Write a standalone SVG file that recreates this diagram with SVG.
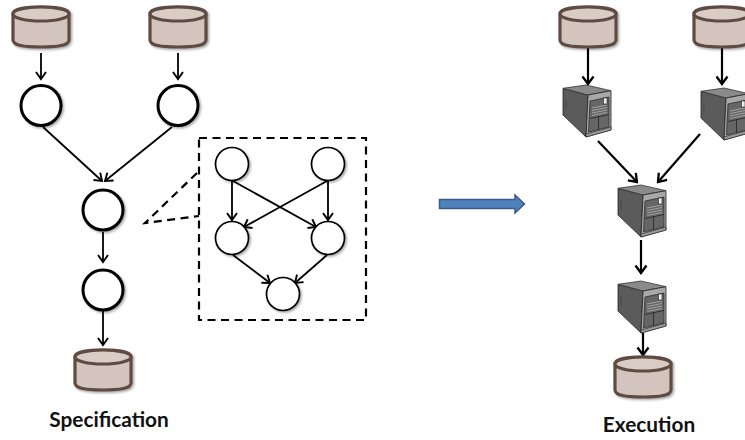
<svg xmlns="http://www.w3.org/2000/svg" width="745" height="440" viewBox="0 0 745 440">
<style>
.cyl{fill:#d3c5bd;stroke:#5f4b42;stroke-width:3.2;stroke-linejoin:round}
.big{fill:#fff;stroke:#000;stroke-width:3}
.small{fill:#fff;stroke:#000;stroke-width:1.7}
.e{fill:none;stroke:#000;stroke-width:1.8;marker-end:url(#a)}
.e2{fill:none;stroke:#000;stroke-width:2.2;marker-end:url(#a2)}
.dash{fill:none;stroke:#000;stroke-width:2.2;stroke-dasharray:8 5.5}
.label{font-family:"Lato","Carlito","Liberation Sans",sans-serif;font-weight:700;font-size:20.8px;fill:#111;text-anchor:middle}
</style>
<defs>
<filter id="s" x="-20%" y="-20%" width="150%" height="150%"><feDropShadow dx="1.5" dy="1.5" stdDeviation="1.3" flood-color="#000" flood-opacity=".35"/></filter>
<marker id="a" viewBox="0 0 12 12" refX="10.500" refY="6" markerWidth="12" markerHeight="12" markerUnits="userSpaceOnUse" orient="auto"><path d="M3.500 1L10.500 6L3.500 11" fill="none" stroke="#000" stroke-width="1.9"/></marker>
<marker id="a2" viewBox="0 0 14 14" refX="12.500" refY="7" markerWidth="14" markerHeight="14" markerUnits="userSpaceOnUse" orient="auto"><path d="M5 1.500L12.500 7L5 12.500" fill="none" stroke="#000" stroke-width="2.300"/></marker>
<g id="cylinder" filter="url(#s)">
<path class="cyl" d="M-28 -13V13C-28 19 -14 20 0 20S28 19 28 13V-13C28 -19 14 -20 0 -20S-28 -19 -28 -13Z"/>
<ellipse class="cyl" cx="0" cy="-13" rx="28" ry="7" style="fill:#d8ccc5"/>
</g>
<g id="server">
<path d="M0 3.300L25 10L23 52L0 30Z" fill="#5b5b5b" stroke="#222" stroke-width=".8"/>
<path d="M0 3.300L23 0L48 5.700L25 10Z" fill="#8a8a8a" stroke="#333" stroke-width=".8"/>
<path d="M25 10L48 5.700V45L23 52Z" fill="#a8a8a8" stroke="#222" stroke-width=".8"/>
<path d="M27 16L46 12V42L25.500 47Z" fill="#666" stroke="#222" stroke-width=".7"/>
<path d="M29 23L44 20M29 25.500L44 22.500M29 28L44 25M29 30.500L44 27.500" stroke="#bbb" stroke-width=".7" fill="none"/>
<path d="M35.500 31.500V44.500M27 33.500L46 29.500" stroke="#222" stroke-width=".8" fill="none"/>
<rect x="40.500" y="13" width="3.500" height="6" fill="#eee" stroke="#222" stroke-width=".6"/>
<path d="M3 15V25" stroke="#444" stroke-width=".8"/>
<path d="M23 52L48 45V42L23 49Z" fill="#999" stroke="#222" stroke-width=".6"/>
</g>
</defs>
<g id="connectors">
<path class="e" d="M41 53V79"/>
<path class="e" d="M178 53V79"/>
<path class="e" d="M43 127L102 181"/>
<path class="e" d="M172 127L105 181"/>
<path class="e" d="M103 232V262"/>
<path class="e" d="M103 311V345"/>
<path class="e" d="M232 181V220"/>
<path class="e" d="M328 181V220"/>
<path class="e" d="M233 181L316 227"/>
<path class="e" d="M327 181L244 227"/>
<path class="e" d="M233 255L270 283"/>
<path class="e" d="M327 255L295 283"/>
<path class="e2" d="M588 48V84"/>
<path class="e2" d="M722 48V84"/>
<path class="e2" d="M598 141L637 182"/>
<path class="e2" d="M700 134L658 182"/>
<path class="e2" d="M641 240V273"/>
<path class="e2" d="M643 333V355"/>
</g>
<g id="callout">
<rect class="dash" x="199" y="138" width="167" height="182"/>
<path class="dash" d="M197 173L145 223L199 216"/>
</g>
<g id="db1"><use href="#cylinder" x="41" y="27"/></g>
<g id="db2"><use href="#cylinder" x="178" y="27"/></g>
<g id="db3"><use href="#cylinder" x="103" y="370"/></g>
<g id="n1"><circle class="big" cx="41" cy="105.500" r="20" filter="url(#s)"/></g>
<g id="n2"><circle class="big" cx="178" cy="105.500" r="20" filter="url(#s)"/></g>
<g id="n3"><circle class="big" cx="103" cy="210" r="20" filter="url(#s)"/></g>
<g id="n4"><circle class="big" cx="103" cy="290" r="20" filter="url(#s)"/></g>
<g id="i1"><circle class="small" cx="232" cy="164" r="16.500" filter="url(#s)"/></g>
<g id="i2"><circle class="small" cx="328" cy="164" r="16.500" filter="url(#s)"/></g>
<g id="i3"><circle class="small" cx="232" cy="238" r="16.500" filter="url(#s)"/></g>
<g id="i4"><circle class="small" cx="328" cy="238" r="16.500" filter="url(#s)"/></g>
<g id="i5"><circle class="small" cx="283" cy="294" r="16.500" filter="url(#s)"/></g>
<g id="bigarrow"><path d="M439.500 199.500H515V195L524.500 204L515 213V208.500H439.500Z" fill="#4f81bd" stroke="#385d8a" stroke-width="1.500"/></g>
<g id="db4"><use href="#cylinder" x="588" y="27"/></g>
<g id="db5"><use href="#cylinder" x="722" y="27"/></g>
<g id="db6"><use href="#cylinder" x="643" y="377"/></g>
<g id="s1"><use href="#server" x="563" y="85"/></g>
<g id="s2"><use href="#server" x="701" y="88"/></g>
<g id="s3"><use href="#server" x="618" y="185"/></g>
<g id="s4"><use href="#server" x="618" y="281"/></g>
<g id="labels">
<text class="label" x="109" y="427">Specification</text>
<text class="label" x="649" y="432">Execution</text>
</g>
</svg>
